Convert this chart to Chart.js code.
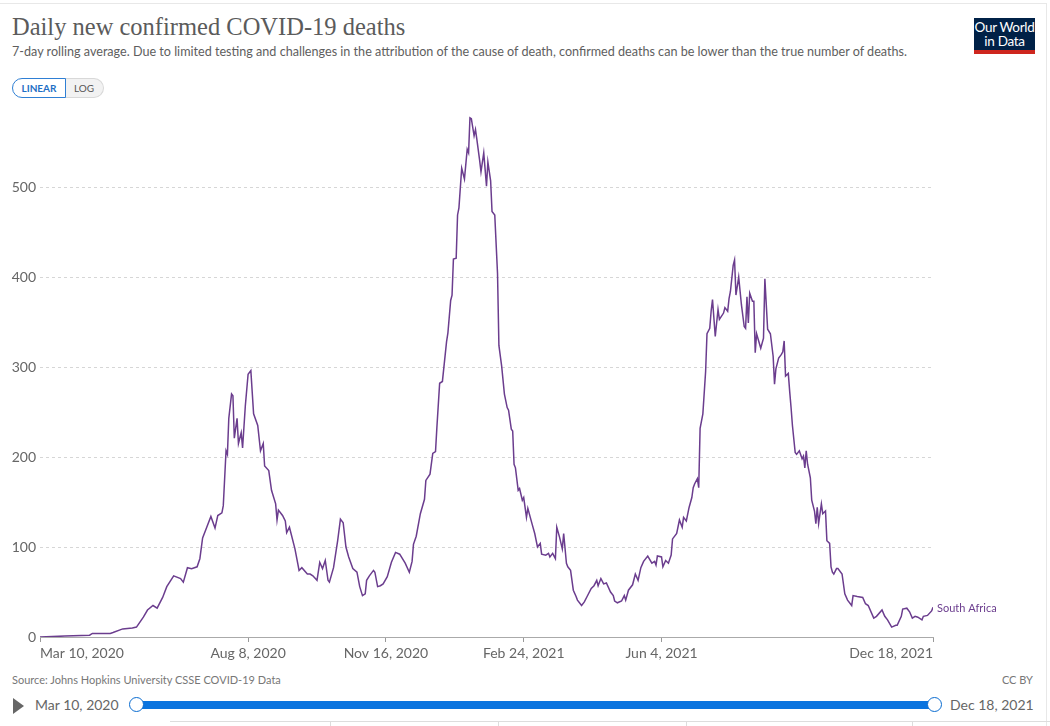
<!DOCTYPE html>
<html>
<head>
  <title>Daily new confirmed COVID-19 deaths</title>
  <script src="https://cdn.jsdelivr.net/npm/chart.js"></script>
  <style>
    body { margin: 0; width: 1050px; height: 726px; overflow: hidden; background: #fff; font-family: Lato, "Noto Sans", sans-serif; position: relative; }
    .abs { position: absolute; }
    #frame { left: -1px; top: 3px; width: 1047px; height: 760px; border-top: 1px solid #e8e8e8; border-right: 1px solid #e8e8e8; }
    #title { left: 12px; top: 13px; font-family: "Liberation Serif", serif; font-size: 24.5px; color: #5b5b5b; white-space: nowrap; }
    #subtitle { left: 12px; top: 44px; font-size: 12.6px; color: #5e5e5e; white-space: nowrap; }
    .btn { top: 78px; height: 18px; font-size: 10px; line-height: 18px; text-align: center; }
    #linear { left: 12px; width: 52px; border: 1px solid #2f7fd4; border-radius: 10px 0 0 10px; color: #1f6fc5; font-weight: bold; background: #fff; z-index: 2; }
    #log { left: 65px; width: 38px; border: 1px solid #d8d8d8; border-left: none; border-radius: 0 10px 10px 0; color: #555; background: #f2f2f2; }
    #logo { left: 974px; top: 18px; width: 61px; height: 36px; background: #002147; color: #fff; font-size: 13.5px; line-height: 14px; text-align: center; box-sizing: border-box; padding-top: 2px; border-bottom: 4px solid #ce261e; letter-spacing: -0.3px; }
    #chartBox { left: 0; top: 100px; width: 1050px; height: 570px; }
    #source { left: 12px; top: 673px; font-size: 11px; color: #777; }
    #ccby { right: 17px; top: 673px; font-size: 11px; color: #777; }
    #play { left: 13px; top: 698px; width: 0; height: 0; border-top: 8px solid transparent; border-bottom: 8px solid transparent; border-left: 11px solid #666; }
    .tl { top: 696px; font-size: 14px; color: #666; }
    #bar { left: 136px; top: 701px; width: 798px; height: 8px; background: #0a74df; }
    .knob { top: 697px; width: 13px; height: 13px; border-radius: 50%; border: 1.5px solid #0a6cd0; background: #fff; }
    #tabs { left: 170px; top: 721px; width: 880px; height: 8px; border-top: 1px solid #ddd; }
    .sep { top: 721px; width: 1px; height: 8px; background: #ddd; }
  </style>
</head>
<body>
  <div id="frame" class="abs"></div>
  <div id="title" class="abs">Daily new confirmed COVID-19 deaths</div>
  <div id="subtitle" class="abs">7-day rolling average. Due to limited testing and challenges in the attribution of the cause of death, confirmed deaths can be lower than the true number of deaths.</div>
  <div id="linear" class="abs btn">LINEAR</div>
  <div id="log" class="abs btn">LOG</div>
  <div id="logo" class="abs">Our World<br>in Data</div>
  <div id="chartBox" class="abs"><canvas id="deathsChart"></canvas></div>
  <div id="source" class="abs">Source: Johns Hopkins University CSSE COVID-19 Data</div>
  <div id="ccby" class="abs">CC BY</div>
  <div id="play" class="abs"></div>
  <div class="abs tl" style="left:35px">Mar 10, 2020</div>
  <div id="bar" class="abs"></div>
  <div class="abs knob" style="left:129px"></div>
  <div class="abs knob" style="left:927px"></div>
  <div class="abs tl" style="left:950px">Dec 18, 2021</div>
  <div id="tabs" class="abs"></div>
  <div class="abs sep" style="left:330px"></div>
  <div class="abs sep" style="left:498px"></div>
  <div class="abs sep" style="left:686px"></div>
  <div class="abs sep" style="left:912px"></div>
  <script>
    // days counted from Mar 10, 2020
    const startDate = Date.UTC(2020, 2, 10);
    const country = 'South Africa';
    const dayOffsets = [0,18,36,38,51,53,60,67,70,75,78,82,85,89,92,97,102,104,107,110,114,116,118,121,124,127,129,132,133,135,136,137,139,140,141,143,144,146,147,149,151,153,155,158,160,162,163,166,168,171,172,173,176,178,179,181,185,188,190,194,196,198,201,203,205,207,209,210,213,216,218,220,222,224,227,230,232,234,236,237,239,242,243,245,247,249,252,255,258,261,265,268,270,271,273,276,279,280,283,285,287,288,290,292,295,296,298,299,300,302,303,304,306,308,310,311,312,313,315,316,317,319,320,322,324,325,327,328,330,332,333,335,337,339,340,342,343,344,345,347,348,350,351,353,354,357,359,361,363,364,367,369,370,372,374,375,377,379,380,382,383,385,387,389,390,393,395,397,400,402,404,405,407,409,411,414,416,417,419,422,424,425,427,430,432,434,436,438,441,444,446,447,448,451,452,454,456,458,459,462,464,466,467,469,471,473,474,475,477,478,479,481,483,484,486,487,488,490,492,493,496,497,499,500,501,503,504,505,507,509,511,512,513,514,515,517,518,519,520,523,525,526,528,530,532,533,534,536,538,539,540,541,543,544,545,546,548,549,551,553,554,555,556,557,559,560,562,563,564,565,567,568,570,571,573,574,575,576,578,579,582,584,586,589,590,593,597,599,601,605,607,611,613,615,618,621,622,625,626,629,631,633,635,637,640,641,644,647,648];
    const deaths = [0,1,2,4,4,5,9,10,11,22,30,35,32,44,56,68,65,61,77,76,78,87,110,122,134,121,135,138,146,207,203,243,270,268,221,243,215,227,210,257,292,296,248,235,207,215,190,185,163,148,130,141,135,129,116,122,98,74,77,70,70,68,63,83,76,85,63,61,77,107,131,127,100,89,76,72,56,46,48,63,68,74,72,56,57,59,67,83,94,92,82,72,84,103,112,137,153,174,181,204,206,233,282,284,328,338,374,380,420,421,469,477,521,509,542,538,577,576,557,564,553,530,517,538,501,528,507,473,469,404,324,301,270,255,252,231,229,192,188,163,165,152,155,133,143,126,115,100,104,92,91,93,89,93,87,122,111,98,115,82,78,74,52,45,41,35,39,45,54,57,63,57,65,59,60,50,46,40,38,40,46,41,52,58,70,63,77,84,90,82,84,80,90,89,78,85,82,91,109,115,130,122,133,129,144,155,166,170,176,166,232,248,295,337,343,362,375,334,364,353,360,366,362,376,384,413,419,380,400,369,345,343,378,349,382,373,373,316,337,321,332,398,342,337,312,281,298,310,314,317,329,290,293,273,255,235,205,203,207,198,201,188,207,192,177,152,140,126,144,126,148,137,140,107,104,78,72,70,76,76,70,48,41,35,46,45,44,37,35,21,23,30,23,19,11,13,13,23,31,32,28,21,23,22,19,23,24,29,33];
    const xTicks = [0, 151, 251, 351, 451, 648];
    const yTicks = [0, 100, 200, 300, 400, 500];
    const monthNames = ['Jan','Feb','Mar','Apr','May','Jun','Jul','Aug','Sep','Oct','Nov','Dec'];

    function fmtDay(d) {
      const dt = new Date(startDate + d * 86400000);
      return monthNames[dt.getUTCMonth()] + ' ' + dt.getUTCDate() + ', ' + dt.getUTCFullYear();
    }

    const endLabel = {
      id: 'endLabel',
      afterDatasetsDraw(chart) {
        const pts = chart.getDatasetMeta(0).data;
        const p = pts[pts.length - 1];
        const ctx = chart.ctx;
        ctx.save();
        ctx.font = '11px Lato';
        ctx.fillStyle = '#6b3d8e';
        ctx.textBaseline = 'middle';
        ctx.fillText(country, p.x + 4, p.y + 1);
        ctx.restore();
      }
    };

    new Chart(document.getElementById('deathsChart'), {
      type: 'line',
      data: {
        datasets: [{
          label: country,
          data: dayOffsets.map((d, i) => ({ x: d, y: deaths[i] })),
          borderColor: '#6b3d8e',
          borderWidth: 1.5,
          pointRadius: 0,
          fill: false,
          tension: 0
        }]
      },
      options: {
        responsive: true,
        maintainAspectRatio: false,
        animation: false,
        layout: { padding: { top: 10, right: 117, left: 0, bottom: 0 } },
        plugins: { legend: { display: false }, tooltip: { enabled: false } },
        scales: {
          x: {
            type: 'linear',
            min: 0,
            max: 648,
            afterFit: s => { s.height = 33; },
            afterBuildTicks: s => { s.ticks = xTicks.map(v => ({ value: v })); },
            grid: { drawOnChartArea: false, drawTicks: true, tickLength: 5, color: '#999' },
            border: { display: true, color: '#aaa' },
            ticks: {
              autoSkip: false, maxRotation: 0, align: 'inner', padding: 3,
              color: '#666', font: { family: 'Lato', size: 14 },
              callback: v => fmtDay(v)
            }
          },
          y: {
            min: 0,
            max: 583,
            afterFit: s => { s.width = 40; },
            afterBuildTicks: s => { s.ticks = yTicks.map(v => ({ value: v })); },
            grid: { drawTicks: false, color: c => c.tick.value === 0 ? 'rgba(0,0,0,0)' : '#d6d6d6', lineWidth: 1 },
            border: { display: false, dash: [3, 3] },
            ticks: { padding: 4, color: '#666', font: { family: 'Lato', size: 14 } }
          }
        }
      },
      plugins: [endLabel]
    });
  </script>
</body>
</html>
